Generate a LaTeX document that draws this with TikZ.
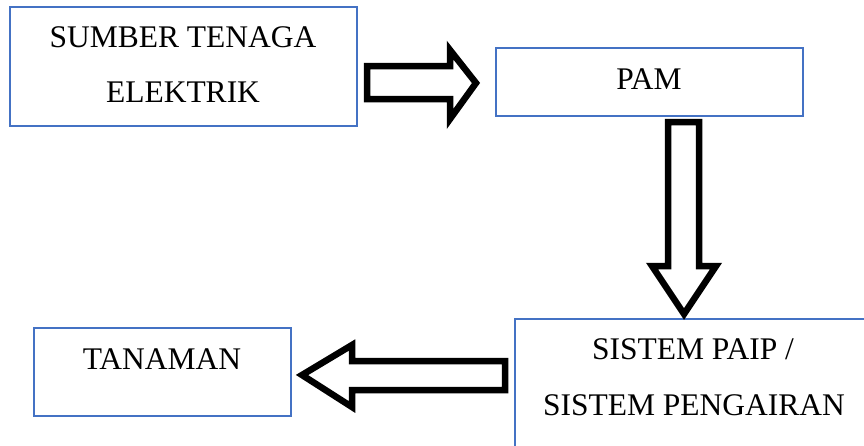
\documentclass[tikz,border=0pt]{standalone}
\usepackage{fontspec}
\setmainfont{Liberation Serif}
\definecolor{boxblue}{RGB}{68,114,196}
\begin{document}
\begin{tikzpicture}[x=1pt,y=-1pt,
  box/.style={draw=boxblue,line width=2.6pt,rectangle,inner sep=0pt},
  lbl/.style={anchor=base,inner sep=0pt,font=\fontsize{31.5}{38}\selectfont},
  blockarrow/.style={draw=black,line width=6.5pt,fill=white,line join=miter,miter limit=10}]
\useasboundingbox (0,0) rectangle (864,445);
\clip (0,0) rectangle (864,445);
% boxes
\node[box,minimum width=347pt,minimum height=119pt] (sumber) at (183.5,66.5) {};
\node[box,minimum width=307pt,minimum height=68pt] (pam) at (649.5,82) {};
\node[box,minimum width=370pt,minimum height=160pt] (paip) at (700,399) {};
\node[box,minimum width=257pt,minimum height=88pt] (tanaman) at (162.5,372) {};
% texts
\node[lbl] (t1a) at (183,47) {SUMBER TENAGA};
\node[lbl] (t1b) at (183,102) {ELEKTRIK};
\node[lbl] (t2) at (649,89) {PAM};
\node[lbl] (t3a) at (693,359) {SISTEM PAIP /};
\node[lbl] (t3b) at (694,415) {SISTEM PENGAIRAN};
\node[lbl] (t4) at (162,369) {TANAMAN};
% block arrows
% right: sumber -> pam
\draw[blockarrow] (367,66) -- (450,66) -- (450,50) -- (476,83) -- (450,119) -- (450,99) -- (367,99) -- cycle;
% down: pam -> paip
\draw[blockarrow] (668,122) -- (699,122) -- (699,266) -- (716,266) -- (684,314) -- (652,266) -- (668,266) -- cycle;
% left: paip -> tanaman
\draw[blockarrow] (505,361) -- (352,361) -- (352,345) -- (302,375) -- (352,407) -- (352,390) -- (505,390) -- cycle;
\end{tikzpicture}
\end{document}
